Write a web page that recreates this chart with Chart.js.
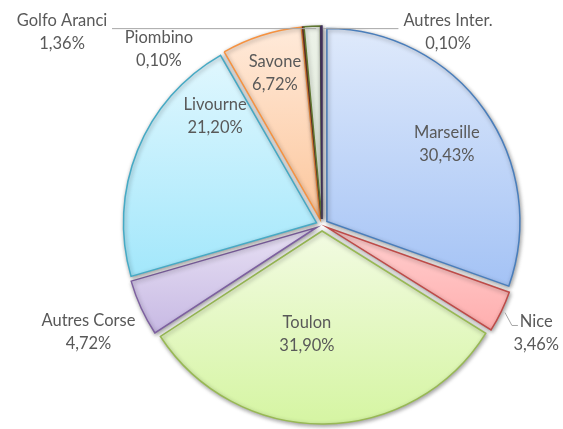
<!DOCTYPE html>
<html>
<head>
<meta charset="utf-8">
<script src="https://cdn.jsdelivr.net/npm/chart.js@4.4.1/dist/chart.umd.min.js"></script>
<style>
  html, body { margin: 0; padding: 0; background: #fff; }
  #wrap { width: 563px; height: 429px; }
</style>
</head>
<body>
<div id="wrap"><canvas id="chart"></canvas></div>
<script>
// chart data
const ports = ["Marseille", "Nice", "Toulon", "Autres Corse", "Livourne", "Savone", "Piombino", "Golfo Aranci", "Autres Inter."];
const shares = [30.43, 3.46, 31.90, 4.72, 21.20, 6.72, 0.10, 1.36, 0.10];
const shareLabels = ["30,43%", "3,46%", "31,90%", "4,72%", "21,20%", "6,72%", "0,10%", "1,36%", "0,10%"];

// styling
const lightFill = ["#dee9fb", "#ffd0d0", "#f3fbe4", "#e8e1f4", "#e0f7fe", "#ffe9d8", "#a04a36", "#ecf2e8", "#5e4b7a"];
const darkFill  = ["#a3c2f5", "#ffafaf", "#d6f5a4", "#c8bae4", "#a2e7fb", "#fcc59a", "#8a3c2c", "#dbe6d4", "#4d3b66"];
const borders   = ["#4a7ebb", "#be4b48", "#98b954", "#7d60a0", "#46aac5", "#f69240", "#6e2e22", "#5e7531", "#3f2f58"];

const RADIUS = 193;
const EXPLODE = 6;

// label anchors, in units of the radius from the pie centre
const labelPos = [
  [0.647, -0.417], [1.11, 0.562], [-0.078, 0.567], [-1.21, 0.554], [-0.554, -0.565],
  [-0.244, -0.785], [-0.845, -0.912], [-1.347, -1.0], [0.653, -1.0]
];

const total = shares.reduce((a, b) => a + b, 0);

function sliceAngles(i) {
  let before = 0;
  for (let k = 0; k < i; k++) before += shares[k];
  const start = -Math.PI / 2 + before / total * Math.PI * 2;
  const end = start + shares[i] / total * Math.PI * 2;
  return [start, end];
}

function sliceGradient(context) {
  const chart = context.chart;
  const i = context.dataIndex;
  const area = chart.chartArea;
  if (!area) return lightFill[i];
  const cx = (area.left + area.right) / 2;
  const cy = (area.top + area.bottom) / 2;
  const [start, end] = sliceAngles(i);
  const ys = [cy, cy + RADIUS * Math.sin(start), cy + RADIUS * Math.sin(end)];
  // include top / bottom of the circle when the slice crosses them
  [-Math.PI / 2, Math.PI / 2, Math.PI * 1.5].forEach(a => {
    if (a > start && a < end) ys.push(cy + RADIUS * Math.sin(a));
  });
  const y0 = Math.min(...ys), y1 = Math.max(...ys);
  const g = chart.ctx.createLinearGradient(0, y0, 0, y1 + 1);
  g.addColorStop(0, lightFill[i]);
  g.addColorStop(1, darkFill[i]);
  return g;
}

// push every slice out from the centre along its middle angle
const explodePlugin = {
  id: "explode",
  afterDatasetUpdate(chart) {
    chart.getDatasetMeta(0).data.forEach(arc => {
      const mid = (arc.startAngle + arc.endAngle) / 2;
      arc.x += Math.cos(mid) * EXPLODE;
      arc.y += Math.sin(mid) * EXPLODE;
    });
  }
};

const shadowPlugin = {
  id: "shadow",
  beforeDatasetDraw(chart) {
    const ctx = chart.ctx;
    ctx.save();
    ctx.shadowColor = "rgba(0,0,0,0.38)";
    ctx.shadowBlur = 4;
    ctx.shadowOffsetX = 1;
    ctx.shadowOffsetY = 1.5;
  },
  afterDatasetDraw(chart) {
    chart.ctx.restore();
  }
};

const labelPlugin = {
  id: "sliceLabels",
  afterDraw(chart) {
    const ctx = chart.ctx;
    const area = chart.chartArea;
    const cx = (area.left + area.right) / 2;
    const cy = (area.top + area.bottom) / 2;
    const pt = (fx, fy) => [cx + fx * RADIUS, cy + fy * RADIUS];

    ctx.save();
    // leader lines
    ctx.strokeStyle = "#a6a6a6";
    ctx.lineWidth = 1;
    const leaders = [
      [[-1.088, -1.02], [-0.03, -1.02]],             // Golfo Aranci
      [[0.396, -1.02], [0.005, -1.02]],              // Autres Inter.
      [[0.948, 0.451], [0.984, 0.518], [1.015, 0.518]] // Nice
    ];
    leaders.forEach(line => {
      ctx.beginPath();
      line.forEach((p, k) => {
        const [x, y] = pt(p[0], p[1]);
        k ? ctx.lineTo(x, y + 0.5) : ctx.moveTo(x, y + 0.5);
      });
      ctx.stroke();
    });

    ctx.fillStyle = "#595959";
    ctx.font = "16.5px Lato";
    ctx.textAlign = "center";
    ctx.textBaseline = "middle";
    ports.forEach((name, i) => {
      const [x, y] = pt(labelPos[i][0], labelPos[i][1]);
      ctx.fillText(name, x, y - 11.5);
      ctx.fillText(shareLabels[i], x, y + 11.5);
    });
    ctx.restore();
  }
};

new Chart(document.getElementById("chart"), {
  type: "pie",
  data: {
    labels: ports,
    datasets: [{
      data: shares,
      backgroundColor: sliceGradient,
      borderColor: borders,
      borderWidth: 1.5,
      borderJoinStyle: "miter",
      hoverOffset: 0
    }]
  },
  options: {
    responsive: true,
    maintainAspectRatio: false,
    animation: false,
    radius: RADIUS,
    layout: { padding: { left: 81, right: 0, top: 21, bottom: 0 } },
    plugins: {
      legend: { display: false },
      tooltip: { enabled: false }
    }
  },
  plugins: [explodePlugin, shadowPlugin, labelPlugin]
});
</script>
</body>
</html>
